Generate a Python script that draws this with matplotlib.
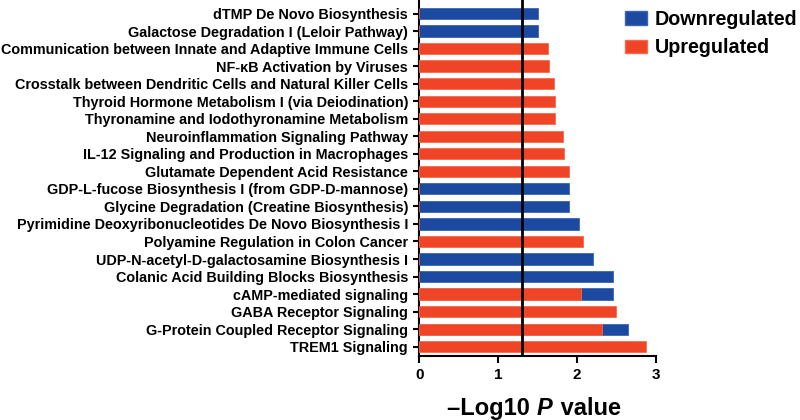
import numpy as np
import matplotlib.pyplot as plt
from matplotlib.patches import Patch

plt.rcParams['font.family'] = ['Liberation Sans', 'DejaVu Sans']

pathways = [
    'dTMP De Novo Biosynthesis',
    'Galactose Degradation I (Leloir Pathway)',
    'Communication between Innate and Adaptive Immune Cells',
    'NF-κB Activation by Viruses',
    'Crosstalk between Dendritic Cells and Natural Killer Cells',
    'Thyroid Hormone Metabolism I (via Deiodination)',
    'Thyronamine and Iodothyronamine Metabolism',
    'Neuroinflammation Signaling Pathway',
    'IL-12 Signaling and Production in Macrophages',
    'Glutamate Dependent Acid Resistance',
    'GDP-L-fucose Biosynthesis I (from GDP-D-mannose)',
    'Glycine Degradation (Creatine Biosynthesis)',
    'Pyrimidine Deoxyribonucleotides De Novo Biosynthesis I',
    'Polyamine Regulation in Colon Cancer',
    'UDP-N-acetyl-D-galactosamine Biosynthesis I',
    'Colanic Acid Building Blocks Biosynthesis',
    'cAMP-mediated signaling',
    'GABA Receptor Signaling',
    'G-Protein Coupled Receptor Signaling',
    'TREM1 Signaling',
]
# -log10 p for downregulated / upregulated sets (0 = not present)
down = [1.50, 1.50, 0, 0, 0, 0, 0, 0, 0, 0,
        1.90, 1.90, 2.03, 0, 2.20, 2.45, 2.45, 0, 2.64, 0]
up = [0, 0, 1.63, 1.65, 1.71, 1.72, 1.72, 1.82, 1.83, 1.90,
      0, 0, 0, 2.07, 0, 0, 2.05, 2.49, 2.32, 2.87]
threshold = 1.3

blue = '#1c4aa0'
red = '#f04426'

fig = plt.figure(figsize=(8, 4.2), dpi=100)
ax = fig.add_axes([0.524, 0.152, 0.296, 0.848])

y = np.arange(len(pathways))[::-1]
ax.barh(y, down, height=0.64, color=blue, edgecolor='#3a64b8', linewidth=0.6, zorder=2)
ax.barh(y, up, height=0.64, color=red, edgecolor='#f66a4e', linewidth=0.6, zorder=3)
ax.axvline(threshold, color='black', lw=2, zorder=4)

ax.set_yticks(y)
ax.set_yticklabels(pathways, fontsize=10.4, fontweight='bold')
ax.set_ylim(-0.54, 19.77)
ax.set_xlim(0, 3)
ax.set_xticks([0, 1, 2, 3])
ax.tick_params(axis='x', labelsize=11, width=1.5, length=5)
ax.tick_params(axis='y', width=1.5, length=4, pad=4)
for t in ax.get_xticklabels():
    t.set_fontweight('bold')
for s in ['top', 'right']:
    ax.spines[s].set_visible(False)
for s in ['left', 'bottom']:
    ax.spines[s].set_linewidth(1.5)

# x label with italic P
fig.text(0.671, 0.012, '–Log10 ', fontsize=17, fontweight='bold', ha='right', va='baseline')
fig.text(0.671, 0.012, 'P', fontsize=17, fontweight='bold', style='italic', ha='left', va='baseline')
fig.text(0.6925, 0.012, ' value', fontsize=17, fontweight='bold', ha='left', va='baseline')

handles = [Patch(facecolor=blue, edgecolor='#3a64b8', label='Downregulated'),
           Patch(facecolor=red, edgecolor='#f66a4e', label='Upregulated')]
fig.legend(handles=handles, loc='upper left', bbox_to_anchor=(625 / 800, 1 - 10 / 420),
           frameon=False, prop={'size': 14.2, 'weight': 'bold'},
           handlelength=1.1, handleheight=0.68, handletextpad=0.4,
           labelspacing=0.48, borderpad=0, borderaxespad=0)

fig.savefig('out.png', dpi=100)
